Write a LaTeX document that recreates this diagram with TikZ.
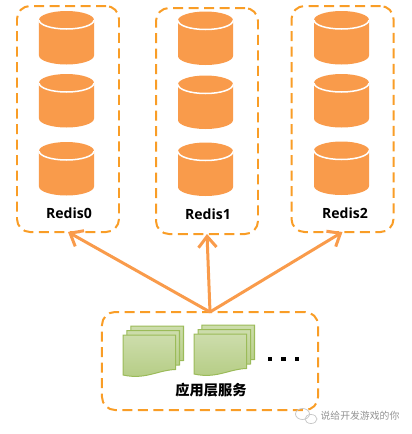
\documentclass[tikz,border=0pt]{standalone}
\usepackage{xcolor}
\usepackage{fontspec}
\setsansfont{Open Sans}
\newfontfamily\cjkfont{Noto Sans CJK SC}
\usetikzlibrary{arrows.meta}
\definecolor{dashorange}{HTML}{F99D26}
\definecolor{diskorange}{HTML}{F99B4B}
\definecolor{pagegreen}{HTML}{9BBB59}
\tikzset{
  groupbox/.style={draw=dashorange,line width=0.04cm,rounded corners=0.26cm,dash pattern=on 0.2cm off 0.11cm,
    minimum width=2.04cm,minimum height=4.52cm,outer sep=0pt,inner sep=0pt},
  redislabel/.style={font=\sffamily\bfseries\fontsize{8}{9}\selectfont,text=black},
  callarrow/.style={draw=diskorange,line width=0.06cm,-{Straight Barb[length=0.22cm,width=0.36cm]}},
  dotmark/.style={fill=black,minimum width=0.09cm,minimum height=0.07cm,inner sep=0pt},
  pics/disk/.style={code={
    \fill[diskorange] (-0.55,0) -- (-0.55,-0.71) arc (180:360:0.55 and 0.18) -- (0.55,0) arc (0:180:0.55 and 0.18) -- cycle;
    \draw[white,line width=0.03cm] (-0.55,0) arc (180:360:0.55 and 0.18);
  }},
  pics/sheet/.style={code={
    \draw[draw=pagegreen,line width=0.02cm,top color=pagegreen!50!white,bottom color=pagegreen!75!white]
      (0,0) -- (1.05,0) -- (1.05,-0.69)
      .. controls (0.7,-0.7) and (0.45,-0.9) .. (0,-0.8) -- cycle;
  }}
}

\begin{document}
\begin{tikzpicture}[font=\small]
  \useasboundingbox (0,0) rectangle (8.24,-8.68);
  % three redis groups
  \node[groupbox] (redis0) at (1.36,-2.38) {};
  \node[groupbox] (redis1) at (4.14,-2.42) {};
  \node[groupbox] (redis2) at (6.85,-2.38) {};
  \pic at (1.33,-0.40) {disk};
  \pic at (1.33,-1.66) {disk};
  \pic at (1.33,-3.02) {disk};
  \pic at (4.11,-0.41) {disk};
  \pic at (4.11,-1.69) {disk};
  \pic at (4.11,-3.03) {disk};
  \pic at (6.83,-0.40) {disk};
  \pic at (6.83,-1.66) {disk};
  \pic at (6.83,-3.01) {disk};
  \node[redislabel] (label0) at (1.38,-4.26) {Redis0};
  \node[redislabel] (label1) at (4.16,-4.28) {Redis1};
  \node[redislabel] (label2) at (6.90,-4.26) {Redis2};
  % service box
  \node[groupbox,minimum width=4.32cm,minimum height=1.96cm] (service) at (4.2,-7.22) {};
  \pic at (2.62,-6.52) {sheet};
  \pic at (2.54,-6.61) {sheet};
  \pic at (2.46,-6.70) {sheet};
  \pic at (4.04,-6.50) {sheet};
  \pic at (3.96,-6.59) {sheet};
  \pic at (3.88,-6.68) {sheet};
  \node[dotmark] (dot0) at (5.40,-7.18) {};
  \node[dotmark] (dot1) at (5.67,-7.18) {};
  \node[dotmark] (dot2) at (5.94,-7.18) {};
  \node[font=\cjkfont\bfseries\fontsize{8.1}{10}\selectfont] (servicelabel) at (4.22,-7.80) {应用层服务};
  % calls
  \draw[callarrow] (service.north) -- (redis0.south);
  \draw[callarrow] (service.north) -- (redis1.south);
  \draw[callarrow] (service.north) -- (redis2.south);
  % watermark
  \draw[gray!45,line width=0.015cm] (6.05,-8.28) ellipse (0.14cm and 0.11cm);
  \draw[gray!45,line width=0.015cm] (6.22,-8.38) ellipse (0.12cm and 0.09cm);
  \node[font=\cjkfont\fontsize{5.6}{7}\selectfont,text=gray!85] (mark) at (7.2,-8.32) {说给开发游戏的你};
\end{tikzpicture}
\end{document}
